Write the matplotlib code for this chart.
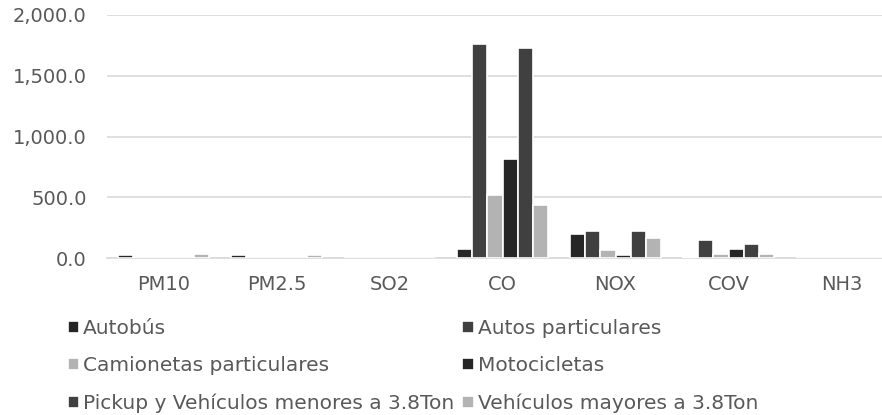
import numpy as np
import matplotlib.pyplot as plt
from matplotlib.ticker import FuncFormatter

# Categories and series values
contaminantes = ["PM10", "PM2.5", "SO2", "CO", "NOX", "COV", "NH3"]
autobus = [25, 22, 3, 72, 195, 11, 0.3]
autos = [2, 1, 4, 1761, 225, 148, 0.5]
camionetas = [1, 1, 1, 519, 69, 33, 0.2]
motocicletas = [1, 1, 0.5, 818, 28, 72, 0.1]
pickup = [3, 2, 4, 1732, 225, 113, 0.4]
mayores = [30, 27, 3, 436, 165, 30, 0.2]

series = [
    ("Autobús", autobus, "#262626"),
    ("Autos particulares", autos, "#404040"),
    ("Camionetas particulares", camionetas, "#b3b3b3"),
    ("Motocicletas", motocicletas, "#262626"),
    ("Pickup y Vehículos menores a 3.8Ton", pickup, "#404040"),
    ("Vehículos mayores a 3.8Ton", mayores, "#b3b3b3"),
]

text_color = "#595959"
plt.rcParams["font.family"] = ["DejaVu Sans"]

fig = plt.figure(figsize=(8.82, 4.15), dpi=100)
# axes runs a bit past the right edge, like the cropped original
ax = fig.add_axes([107 / 882, (415 - 258) / 415, 791 / 882, 243 / 415])

x = np.arange(len(contaminantes))
step = 0.133
handles = []
for i, (name, vals, color) in enumerate(series):
    offset = (i - 2.5) * step
    b = ax.bar(x + offset, vals, width=step, color=color,
               edgecolor="white", linewidth=1.2, label=name, zorder=3)
    handles.append(b)

ax.set_xlim(-0.5, len(contaminantes) - 0.5)
ax.set_ylim(0, 2000)
ax.set_yticks([0, 500, 1000, 1500, 2000])
ax.yaxis.set_major_formatter(FuncFormatter(lambda v, p: f"{v:,.1f}"))
ax.set_xticks(x)
ax.set_xticklabels(contaminantes)

ax.grid(axis="y", color="#d9d9d9", linewidth=1.2, zorder=0)
for s in ["top", "right", "left"]:
    ax.spines[s].set_visible(False)
ax.spines["bottom"].set_color("#d9d9d9")
ax.spines["bottom"].set_linewidth(1.2)
ax.tick_params(axis="both", length=0, labelsize=14, colors=text_color)
ax.tick_params(axis="y", pad=14.5)
ax.tick_params(axis="x", pad=12)

# legend filled row by row
order = [0, 2, 4, 1, 3, 5]
fig.legend([handles[i] for i in order], [series[i][0] for i in order],
           ncol=2, loc="upper left", bbox_to_anchor=(60 / 882, 1 - 311 / 415),
           frameon=False, fontsize=14.5, labelcolor=text_color,
           handlelength=0.55, handleheight=0.55, handletextpad=0.2,
           columnspacing=0.4, labelspacing=0.9, borderaxespad=0)

fig.savefig("out.png", dpi=100)
